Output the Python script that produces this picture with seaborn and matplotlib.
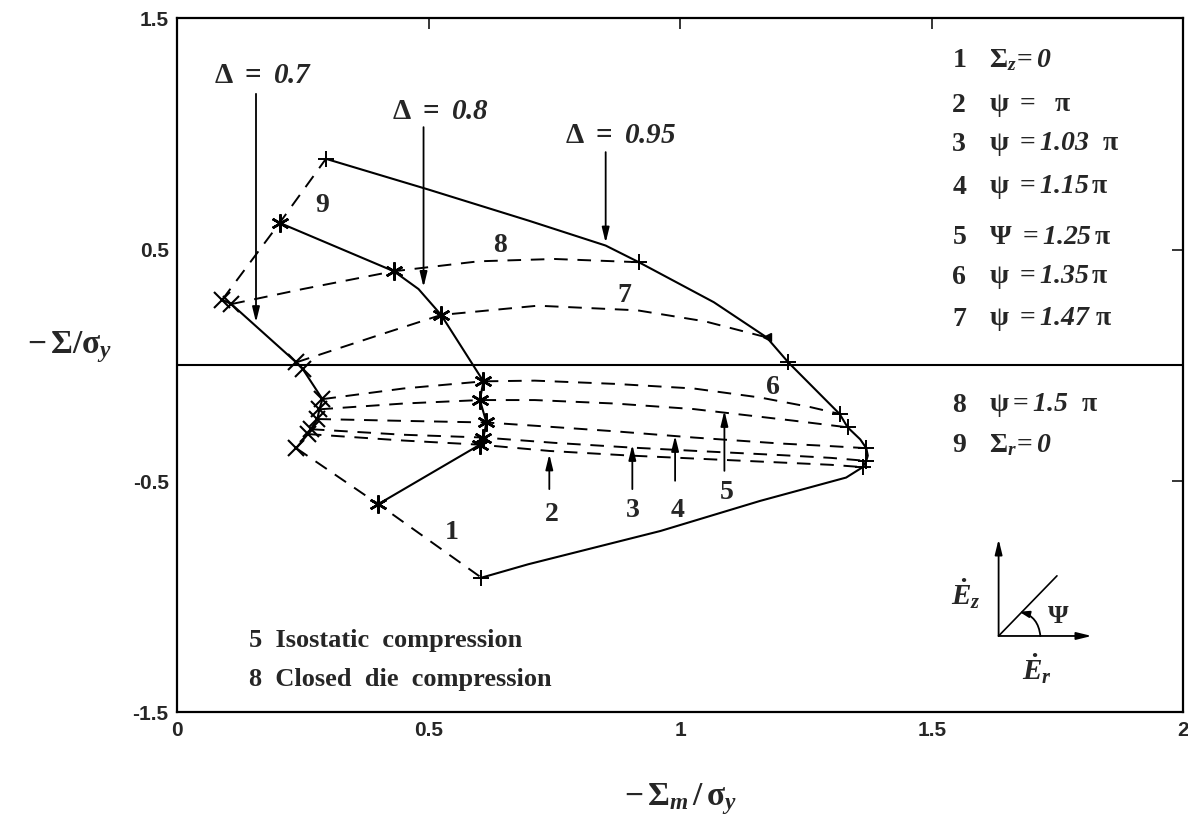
import numpy as np
import seaborn as sns
import matplotlib.pyplot as plt

sns.set_style('white')
plt.rcParams['axes.unicode_minus'] = False
plt.rcParams['font.family'] = ['Liberation Sans', 'DejaVu Sans']
plt.rcParams['mathtext.fontset'] = 'custom'
plt.rcParams['mathtext.rm'] = 'Liberation Serif:bold'
plt.rcParams['mathtext.it'] = 'Liberation Serif:italic:bold'
plt.rcParams['mathtext.bf'] = 'Liberation Serif:bold'
plt.rcParams['mathtext.sf'] = 'Liberation Serif:italic:bold'  # italic digits

# --- data ---
# yield curves for three relative densities
d70_x = [0.09, 0.108, 0.237, 0.25, 0.289, 0.283, 0.279, 0.266, 0.26, 0.237]
d70_y = [0.284, 0.265, 0.013, -0.016, -0.146, -0.19, -0.232, -0.276, -0.297, -0.358]

d80_x = [0.204, 0.431, 0.48, 0.525, 0.609, 0.602, 0.615, 0.609, 0.602, 0.40]
d80_y = [0.616, 0.407, 0.33, 0.218, -0.069, -0.15, -0.247, -0.312, -0.343, -0.60]
d80_marks = [0, 1, 3, 4, 5, 6, 7, 8, 9]

d95_x = [0.296, 0.5, 0.7, 0.852, 0.918, 1.067, 1.172, 1.215, 1.317, 1.333,
         1.358, 1.37, 1.373, 1.37, 1.363, 1.33, 1.159, 0.961, 0.698, 0.605]
d95_y = [0.893, 0.76, 0.625, 0.518, 0.446, 0.273, 0.121, 0.013, -0.21, -0.268,
         -0.32, -0.358, -0.39, -0.413, -0.44, -0.485, -0.586, -0.716, -0.86, -0.918]
d95_marks = [0, 4, 7, 8, 9, 11, 13, 14, 19]

# loading paths (dashed)
path1_x = [0.237, 0.40, 0.605]
path1_y = [-0.358, -0.60, -0.918]
path2_x = [0.26, 0.45, 0.602, 0.74, 0.9, 1.05, 1.2, 1.3, 1.363]
path2_y = [-0.297, -0.325, -0.343, -0.37, -0.39, -0.405, -0.42, -0.43, -0.44]
path3_x = [0.266, 0.45, 0.609, 0.75, 0.9, 1.05, 1.2, 1.3, 1.37]
path3_y = [-0.276, -0.30, -0.312, -0.335, -0.355, -0.372, -0.388, -0.40, -0.413]
path4_x = [0.279, 0.45, 0.615, 0.711, 0.87, 1.027, 1.2, 1.29, 1.37]
path4_y = [-0.232, -0.24, -0.247, -0.261, -0.285, -0.312, -0.338, -0.348, -0.358]
path5_x = [0.283, 0.45, 0.602, 0.711, 0.87, 1.027, 1.225, 1.333]
path5_y = [-0.19, -0.165, -0.15, -0.15, -0.165, -0.189, -0.239, -0.268]
path6_x = [0.289, 0.45, 0.609, 0.711, 0.87, 1.027, 1.159, 1.258, 1.317]
path6_y = [-0.146, -0.10, -0.069, -0.066, -0.08, -0.10, -0.139, -0.18, -0.21]
path7_x = [0.237, 0.4, 0.525, 0.717, 0.915, 1.05, 1.172]
path7_y = [0.013, 0.13, 0.218, 0.258, 0.238, 0.19, 0.121]
path8_x = [0.108, 0.25, 0.431, 0.6, 0.75, 0.918]
path8_y = [0.265, 0.33, 0.407, 0.45, 0.46, 0.446]
path9_x = [0.09, 0.204, 0.296]
path9_y = [0.284, 0.616, 0.893]

paths_x = [path1_x, path2_x, path3_x, path4_x, path5_x, path6_x, path7_x, path8_x, path9_x]
paths_y = [path1_y, path2_y, path3_y, path4_y, path5_y, path6_y, path7_y, path8_y, path9_y]

# path number labels
path_labels = ['1', '2', '3', '4', '5', '6', '7', '8', '9']
path_label_x = [0.545, 0.745, 0.905, 0.994, 1.093, 1.184, 0.889, 0.642, 0.288]
path_label_y = [-0.723, -0.644, -0.629, -0.629, -0.55, -0.095, 0.30, 0.52, 0.69]

# arrows pointing at paths 2..5
ptr_x = [0.74, 0.905, 0.99, 1.088]
ptr_from = [-0.535, -0.535, -0.499, -0.456]
ptr_to = [-0.384, -0.343, -0.304, -0.196]

# density labels
delta_text = ['0.7', '0.8', '0.95']
delta_text_x = [0.171, 0.523, 0.882]
delta_text_y = [1.254, 1.10, 0.994]
delta_arrow_x = [0.157, 0.49, 0.852]
delta_arrow_from = [1.174, 1.03, 0.922]
delta_arrow_to = [0.186, 0.338, 0.53]

legend_num = ['1', '2', '3', '4', '5', '6', '7', '8', '9']
legend_expr = [r'$\Sigma_{z}\!=\mathsf{0}$',
               r'$\mathrm{\psi}\ =\ \ \mathrm{\pi}$',
               r'$\mathrm{\psi}\ =\mathsf{1.03}\ \ \mathrm{\pi}$',
               r'$\mathrm{\psi}\ =\mathsf{1.15}\,\mathrm{\pi}$',
               r'$\mathrm{\Psi}\ =\mathsf{1.25}\,\mathrm{\pi}$',
               r'$\mathrm{\psi}\ =\mathsf{1.35}\,\mathrm{\pi}$',
               r'$\mathrm{\psi}\ =\mathsf{1.47}\ \mathrm{\pi}$',
               r'$\mathrm{\psi}=\mathsf{1.5}\ \ \mathrm{\pi}$',
               r'$\Sigma_{r}\!=\mathsf{0}$']
legend_y = [1.32, 1.125, 0.957, 0.77, 0.554, 0.381, 0.199, -0.173, -0.346]

xticks = [0, 0.5, 1, 1.5, 2]
xtick_labels = ['0', '0.5', '1', '1.5', '2']
yticks = [-1.5, -0.5, 0.5, 1.5]
ytick_labels = ['-1.5', '-0.5', '0.5', '1.5']

serif = 'Liberation Serif'
arrow_kw = dict(arrowstyle='-|>,head_length=0.9,head_width=0.22', color='k',
                lw=1.3, shrinkA=0, shrinkB=0)
asterisk = (6, 2, 0)

fig, ax = plt.subplots(figsize=(11.88, 8.38), dpi=100)
fig.subplots_adjust(left=0.149, right=0.996, top=0.978, bottom=0.150)

ax.axhline(0, color='k', lw=1.5, zorder=1)

# dashed loading paths
for px, py in zip(paths_x, paths_y):
    sns.lineplot(x=px, y=py, sort=False, estimator=None, color='k', lw=1.4,
                 linestyle=(0, (7, 5)), ax=ax)

# solid yield curves
for cx, cy in [(d70_x, d70_y), (d80_x, d80_y), (d95_x, d95_y)]:
    sns.lineplot(x=cx, y=cy, sort=False, estimator=None, color='k', lw=1.5, ax=ax)

ax.plot(d70_x, d70_y, linestyle='none', marker='x', ms=11, mew=1.5, color='k')
ax.plot(np.array(d80_x)[d80_marks], np.array(d80_y)[d80_marks], linestyle='none',
        marker=asterisk, ms=13, mew=1.8, color='k')
ax.plot(np.array(d95_x)[d95_marks], np.array(d95_y)[d95_marks], linestyle='none',
        marker='+', ms=11, mew=1.4, color='k')
ax.plot(d95_x[6], d95_y[6], linestyle='none', marker='<', ms=6, color='k')

# path numbers and pointer arrows
for lab, lx, ly in zip(path_labels, path_label_x, path_label_y):
    ax.text(lx, ly, lab, family=serif, weight='bold', fontsize=20,
            ha='center', va='center')
for x0, y0, y1 in zip(ptr_x, ptr_from, ptr_to):
    ax.annotate('', xy=(x0, y1), xytext=(x0, y0), arrowprops=arrow_kw)

# density labels
for t, tx, ty, axx, a0, a1 in zip(delta_text, delta_text_x, delta_text_y,
                                  delta_arrow_x, delta_arrow_from, delta_arrow_to):
    ax.text(tx, ty, r'$\Delta\ =\ \mathsf{' + t + '}$', fontsize=21,
            ha='center', va='center')
    ax.annotate('', xy=(axx, a1), xytext=(axx, a0), arrowprops=arrow_kw)

# legend block at right
for num, expr, ly in zip(legend_num, legend_expr, legend_y):
    ax.text(1.541, ly, num, family=serif, weight='bold', fontsize=20,
            ha='left', va='center')
    ax.text(1.613, ly, expr, fontsize=20, ha='left', va='center')

ax.text(0.144, -1.19, '5  Isostatic  compression', family=serif, weight='bold',
        fontsize=19, ha='left', va='center')
ax.text(0.144, -1.358, '8  Closed  die  compression', family=serif, weight='bold',
        fontsize=19, ha='left', va='center')

# strain-rate direction sketch
ax.annotate('', xy=(1.633, -0.752), xytext=(1.633, -1.17), arrowprops=arrow_kw)
ax.annotate('', xy=(1.818, -1.17), xytext=(1.633, -1.17), arrowprops=arrow_kw)
ax.plot([1.633, 1.749], [-1.17, -0.91], color='k', lw=1.2)
ax.annotate('', xy=(1.674, -1.065), xytext=(1.716, -1.17),
            arrowprops=dict(arrowstyle='-|>,head_length=0.6,head_width=0.2',
                            color='k', lw=1.3, shrinkA=0, shrinkB=0,
                            connectionstyle='arc3,rad=0.35'))
ax.text(1.752, -1.085, r'$\mathrm{\Psi}$', fontsize=19, ha='center', va='center')
ax.text(1.567, -0.985, r'$\dot{E}_{z}$', fontsize=21, ha='center', va='center')
ax.text(1.71, -1.31, r'$\dot{E}_{r}$', fontsize=21, ha='center', va='center')

ax.set_xlim(0, 2)
ax.set_ylim(-1.5, 1.5)
ax.set_xticks(xticks)
ax.set_xticklabels(xtick_labels, fontweight='bold')
ax.set_yticks(yticks)
ax.set_yticklabels(ytick_labels, fontweight='bold')
ax.tick_params(direction='in', length=8, width=1.3, top=True, right=True,
               labelsize=15, pad=6)
for s in ax.spines.values():
    s.set_color('k')
    s.set_linewidth(1.6)

ax.set_xlabel(r'$-\,\Sigma_{m}\,/\,\mathrm{\sigma}_{y}$', fontsize=24, labelpad=30)
ax.set_ylabel(r'$-\,\Sigma/\mathrm{\sigma}_{y}$', fontsize=24, rotation=0)
ax.yaxis.set_label_coords(-0.107, 0.5)

plt.savefig('out.png', dpi=100)
